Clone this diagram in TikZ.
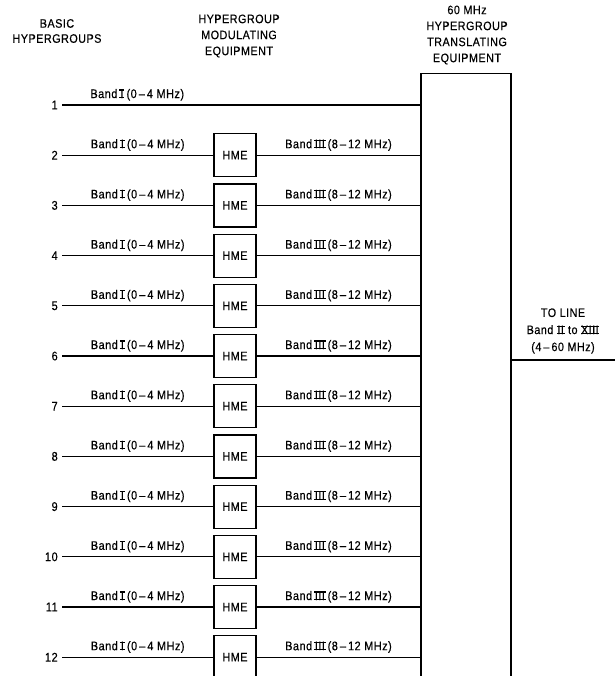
\documentclass[tikz,border=0pt]{standalone}
\usepackage{fontspec}
\setmainfont{Liberation Sans}[FakeStretch=0.88, LetterSpace=4, FakeBold=0.4]
\newcommand\romnum[1]{\setbox0\hbox{#1}\rlap{\rule{\wd0}{0.16ex}}\rlap{\raisebox{\dimexpr\ht0-0.16ex\relax}{\rule{\wd0}{0.16ex}}}\box0\relax}
\newcommand\bandone{Band\,\romnum{\kern0.08em I\kern0.08em}\,(0\,–\,4 MHz)}
\newcommand\bandthree{Band\,\romnum{\kern0.05em I\kern0.04em I\kern0.04em I\kern0.05em}\,(8\,–\,12 MHz)}
\begin{document}
\begin{tikzpicture}[x=0.75pt,y=-0.75pt,
  every node/.style={inner sep=0pt},
  lbl/.style={font=\fontsize{9.3}{10}\selectfont},
  head/.style={align=center, font=\fontsize{9.2}{12}\selectfont},
  num/.style={anchor=east, inner xsep=3pt, font=\fontsize{9.4}{10}\selectfont},
  hme/.style={draw, line width=0.9pt, minimum width=31.5pt, minimum height=32.25pt, font=\fontsize{9.2}{10}\selectfont},
  wire/.style={line width=0.85pt},
  bandlbl/.style={lbl, anchor=base, yshift=5.25pt}]
\useasboundingbox (0,0) rectangle (615,676);
% headers
\node[head, font=\fontsize{9.2}{11.3}\selectfont] (hbasic) at (57,31) {BASIC\\HYPERGROUPS};
\node[head] (hmod) at (239,36) {HYPERGROUP\\MODULATING\\EQUIPMENT};
\node[head] (htr) at (467,35) {60 MHz\\HYPERGROUP\\TRANSLATING\\EQUIPMENT};
% translating equipment box (open at the bottom, off the page)
\node[draw, line width=0.9pt, anchor=north, minimum width=67.5pt, minimum height=480pt] (hte) at (466,73) {};
% row 1
\node[num] (n1) at (62,105) {1};
\draw[wire] (n1.east) -- node[bandlbl, pos=0.21] (b1) {\bandone} (hte.west |- n1.east);
% rows 2-12
\foreach \i in {2,...,12}{
  \pgfmathsetmacro\yy{105+50.2*(\i-1)}
  \node[num] (n\i) at (62,\yy) {\i};
  \node[hme] (h\i) at (235,\yy) {HME};
  \draw[wire] (n\i.east) -- node[bandlbl] (a\i) {\bandone} (h\i.west);
  \draw[wire] (h\i.east) -- node[bandlbl] (c\i) {\bandthree} (hte.west |- h\i.east);
}
% to line
\coordinate (tl) at (615,360);
\draw[wire] (hte.east |- tl) -- (tl);
\node[lbl, align=center, font=\fontsize{9.2}{12.8}\selectfont] (toline) at (563,331) {TO LINE\\Band \romnum{\kern0.05em I\kern0.04em I\kern0.05em} to \romnum{XI\kern0.04em I\kern0.04em I\kern0.05em}\\(4\,–\,60 MHz)};
\end{tikzpicture}
\end{document}
